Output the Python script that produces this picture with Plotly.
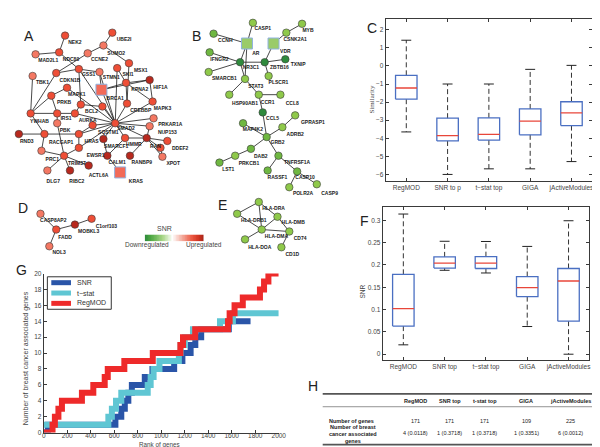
import numpy as np
import plotly.graph_objects as go

# ======================= DATA =======================
# ---- Panel C : similarity boxplots ----
c_methods = ["RegMOD", "SNR to p", "t\u2212stat top", "GIGA", "jActiveModules"]
c_whisk_lo = [-3.65, -6.00, -5.69, -5.69, -5.29]
c_q1 = [-1.84, -4.15, -4.10, -3.81, -3.30]
c_median = [-1.22, -3.85, -3.78, -3.05, -2.60]
c_q3 = [-0.52, -2.89, -2.87, -2.38, -1.98]
c_whisk_hi = [1.42, -1.00, -1.00, -0.19, 0.03]
c_yticks = [-6, -5, -4, -3, -2, -1, 0, 1, 2]

# ---- Panel F : SNR boxplots ----
f_methods = ["RegMOD", "SNR top", "t\u2212stat top", "GIGA", "jActiveModules"]
f_whisk_lo = [0.021, 0.188, 0.182, 0.062, 0.000]
f_q1 = [0.063, 0.193, 0.192, 0.129, 0.074]
f_median = [0.102, 0.204, 0.204, 0.149, 0.164]
f_q3 = [0.179, 0.218, 0.2185, 0.174, 0.192]
f_whisk_hi = [0.314, 0.253, 0.2525, 0.2415, 0.299]
f_yticks = [0, 0.05, 0.1, 0.15, 0.2, 0.25, 0.3]

# ---- Panel G : cumulative breast-cancer genes vs rank ----
g_snr_rank = [0, 35, 610, 660, 690, 720, 750, 860, 925, 1110, 1180, 1250, 1290, 1340, 1575, 1760]
g_snr_count = [0, 1, 2, 3, 4, 5, 6, 7, 8, 9, 10, 11, 12, 13, 14, 14]
g_tstat_rank = [0, 550, 580, 615, 660, 885, 910, 935, 985, 1150, 1165, 1200, 1270, 1500, 1610, 2000]
g_tstat_count = [1, 2, 3, 4, 5, 6, 7, 8, 9, 10, 11, 12, 13, 14, 15, 15]
g_reg_rank = [0, 75, 95, 125, 155, 325, 422, 519, 545, 686, 928, 1163, 1185, 1289, 1568, 1582,
              1624, 1694, 1840, 1875, 1912, 2000]
g_reg_count = [0, 1, 2, 3, 4, 5, 6, 7, 8, 9, 10, 11, 12, 13, 14, 15, 16, 17, 18, 19, 20, 20]
g_xticks = [0, 200, 400, 600, 800, 1000, 1200, 1400, 1600, 1800, 2000]
g_yticks = [0, 2, 4, 6, 8, 10, 12, 14, 16, 18, 20]

# ---- Panel H : table ----
h_methods = ["RegMOD", "SNR top", "t-stat top", "GIGA", "jActiveModules"]
h_num_genes = [171, 171, 171, 109, 225]
h_num_bc = [4, 1, 1, 1, 6]
h_pvals = ["0.0118", "0.3718", "0.3718", "0.3351", "0.0012"]

# ---- Network A (upregulated module), layout in page pixels ----
a_x = [56, 104, 95, 26, 50, 79, 121, 109, 91, 70, 47, 23, 142, 118, 93, 58, 42, 145, 119, 72,
       94, 21, 48, 66, 107, 146, 84, 48, 142, 9, 35, 70, 95, 117, 139, 160, 70, 32, 55, 99,
       122, 153, 155, 80, 38, 61, 112]
a_y = [24, 21, 34, 43, 41, 42, 52, 57, 61, 58, 62, 65, 69, 72, 79, 77, 85, 91, 93, 94,
       96, 103, 103, 103, 113, 108, 115, 113, 116, 124, 124, 124, 129, 128, 128, 131, 138, 141, 146, 146,
       146, 138, 147, 156, 161, 161, 163]
a_level = ["m", "m", "l", "l", "m", "l", "m", "m", "l", "m", "m", "l", "d", "m", "sq", "m", "m", "m", "m", "m",
           "m", "m", "m", "m", "m", "l", "m", "l", "l", "d", "m", "m", "d", "m", "d", "m", "m", "l", "m", "d",
           "d", "m", "l", "d", "l", "d", "sq"]
a_label = ["NEK2", "UBE2I", "SUMO2", "MAD2L1", "NDC80", "CCNE2", "MSX1", "SKI1", "STMN1", "GSS1",
           "CDKN1B", "TBK1", "HIF1A", "KPNA2", "BRCA1", "MAPK1", "PRKB", "MAPK3", "CREBBP", "BCL2",
           "", "YWHAB", "IRS1", "AURKA", "SMAD2", "PRKAR1A", "SQSTM1", "PBK", "NUP153", "RND3",
           "RACGAP1", "HRAS", "SMARCF1", "HMMR", "RAN", "DDEF2", "EWSR1", "PRC1", "TRIM37", "CALM1",
           "RANBP9", "", "XPOT", "ACTL6A", "DLG7", "RIBC2", "KRAS"]
a_lab_x = [66, 116, 108, 39, 62, 91, 133, 120, 103, 80, 61, 33, 153, 132, 107, 68, 55, 155, 133, 83,
           0, 30, 57, 79, 118, 163, 100, 56, 160, 17, 52, 83, 108, 126, 148, 173, 87, 43, 68, 109,
           134, 0, 166, 90, 44, 68, 128]
a_lab_y = [31, 28, 42, 50, 48, 49, 60, 64, 67, 64, 70, 72, 77, 79, 88, 84, 92, 98, 100, 101,
           0, 111, 108, 110, 119, 115, 123, 121, 123, 132, 133, 132, 137, 135, 137, 139, 146, 150, 154, 153,
           153, 0, 154, 166, 172, 172, 172]
a_edges = [(0, 4), (3, 4), (4, 9), (1, 2), (2, 5), (2, 6), (5, 10), (10, 9), (9, 8), (8, 24),
           (7, 24), (6, 18), (9, 24), (9, 19), (10, 21), (11, 21), (14, 12), (14, 24), (13, 14),
           (13, 18), (12, 13), (13, 17), (17, 24), (18, 24), (25, 24), (28, 24), (15, 16), (15, 24),
           (16, 21), (16, 22), (19, 20), (20, 24), (19, 23), (21, 23), (21, 30), (23, 24), (22, 27),
           (27, 38), (26, 24), (26, 31), (29, 30), (30, 31), (31, 24), (33, 34), (24, 33), (24, 34),
           (24, 32), (36, 24), (30, 37), (37, 38), (38, 36), (38, 44), (38, 45), (38, 43), (36, 31),
           (39, 46), (39, 32), (39, 33), (34, 40), (34, 35), (34, 41), (41, 42), (34, 42), (28, 34),
           (8, 14), (7, 13), (12, 17)]

# ---- Network B (downregulated module) ----
b_x = [247, 297, 281, 207, 241, 268, 203, 234, 259, 280, 202, 263, 239, 223, 253, 275, 257, 290,
       237, 277, 261, 245, 273, 229, 213, 262, 292, 312, 284]
b_y = [11, 12, 21, 22, 32, 32, 41, 51, 51, 48, 61, 65, 68, 84, 84, 84, 102, 105,
       113, 117, 127, 139, 146, 146, 153, 161, 162, 175, 178]
b_level = ["l", "l", "l", "m", "sq", "sq", "m", "d", "d", "d", "l", "l", "l", "l", "l", "l", "d", "l",
           "m", "l", "m", "m", "m", "l", "m", "m", "m", "l", "l"]
b_label = ["CASP1", "MYB", "CSNK2A1", "CCNH", "AR", "VDR", "IFNGR2", "NR3C1", "ZBTB16", "TXNIP",
           "SMARCB1", "PLSCR1", "STAT3", "HSP90AB1", "CCR1", "CCL8", "CCL5", "GPRASP1", "MAP4K2",
           "ADRB2", "GRB2", "DAB2", "TNFRSF1A", "PRKCB1", "LST1", "RASSF1", "CASP10", "CASP9", "POLR2A"]
b_lab_x = [257, 303, 290, 219, 250, 280, 213, 245, 274, 293, 218, 273, 250, 239, 262, 287, 267, 308,
           247, 290, 272, 255, 292, 243, 222, 272, 300, 325, 298]
b_lab_y = [17, 19, 28, 29, 42, 40, 48, 57, 57, 54, 68, 72, 76, 93, 92, 93, 108, 113,
           120, 125, 133, 147, 153, 154, 160, 168, 168, 185, 185]
b_edges = [(0, 4), (3, 4), (1, 2), (2, 5), (6, 7), (4, 7), (4, 12), (7, 8), (10, 7), (5, 8), (8, 9),
           (8, 11), (7, 12), (12, 13), (12, 14), (14, 15), (14, 16), (16, 20), (18, 20), (19, 20),
           (19, 17), (20, 21), (21, 23), (23, 24), (20, 22), (22, 25), (22, 26), (26, 27), (26, 28)]

# ---- Network D ----
d_x = [31, 47, 66, 83, 40]
d_y = [205, 221, 216, 210, 238]
d_level = ["l", "m", "d", "m", "l"]
d_label = ["CASP8AP2", "FADD", "MOBKL3", "C1orf103", "NOL3"]
d_lab_x = [44, 56, 80, 98, 50]
d_lab_y = [212, 229, 223, 218, 245]
d_edges = [(0, 1), (1, 2), (2, 3), (1, 4)]

# ---- Network E ----
e_x = [253, 231, 272, 256, 284, 239, 276]
e_y = [193, 205, 208, 221, 223, 231, 239]
e_label = ["HLA-DRA", "HLA-DRB1", "HLA-DMB", "HLA-DMA", "CD74", "HLA-DOA", "CD1D"]
e_lab_x = [268, 248, 288, 271, 295, 254, 287]
e_lab_y = [200, 212, 214, 228, 230, 239, 247]
e_edges = [(1, 0), (0, 3), (0, 2), (1, 3), (3, 2), (3, 4), (2, 4), (5, 3), (6, 4)]

# ======================= STYLE =======================
FONT = "Liberation Sans, Arial, sans-serif"
RED = {"l": "#f47863", "m": "#ee4e36", "d": "#b8291e", "sq": "#f26a58"}
GREEN = {"l": "#8fc94a", "m": "#6fb741", "d": "#2f8a3c", "sq": "#9acb6a"}
W, H = 600, 447


def px_domain_x(a, b):
    return [a / W, b / W]


def px_domain_y(top, bottom):
    return [1 - bottom / H, 1 - top / H]


fig = go.Figure()


def add_network(xs, ys, levels, labels, lx, ly, edges, palette):
    ex, ey = [], []
    for i, j in edges:
        ex += [xs[i], xs[j], None]
        ey += [ys[i], ys[j], None]
    fig.add_trace(go.Scatter(x=ex, y=ey, mode="lines", line=dict(color="#1a1a1a", width=0.8),
                             hoverinfo="skip", showlegend=False, xaxis="x", yaxis="y"))
    circ = [k for k in range(len(xs)) if levels[k] != "sq"]
    sq = [k for k in range(len(xs)) if levels[k] == "sq"]
    fig.add_trace(go.Scatter(x=[xs[k] for k in circ], y=[ys[k] for k in circ], mode="markers",
                             marker=dict(size=7.5, color=[palette[levels[k]] for k in circ],
                                         line=dict(color="#3a3a3a", width=0.6)),
                             showlegend=False, hoverinfo="skip", xaxis="x", yaxis="y"))
    if sq:
        fig.add_trace(go.Scatter(x=[xs[k] for k in sq], y=[ys[k] for k in sq], mode="markers",
                                 marker=dict(size=11, symbol="square", color=palette["sq"],
                                             line=dict(color="#8fb2e0", width=1)),
                                 showlegend=False, hoverinfo="skip", xaxis="x", yaxis="y"))
    idx = [k for k in range(len(labels)) if labels[k]]
    fig.add_trace(go.Scatter(x=[lx[k] for k in idx], y=[ly[k] for k in idx], mode="text",
                             text=["<b>%s</b>" % labels[k] for k in idx],
                             textfont=dict(family=FONT, size=5, color="#1a1a1a"),
                             showlegend=False, hoverinfo="skip", xaxis="x", yaxis="y"))


add_network(a_x, a_y, a_level, a_label, a_lab_x, a_lab_y, a_edges, RED)
add_network(b_x, b_y, b_level, b_label, b_lab_x, b_lab_y, b_edges, GREEN)
add_network(d_x, d_y, d_level, d_label, d_lab_x, d_lab_y, d_edges, RED)
add_network(e_x, e_y, ["l"] * len(e_x), e_label, e_lab_x, e_lab_y, e_edges, GREEN)


# ---------- boxplots ----------
def add_boxes(lo, q1, med, q3, hi, xa, ya, hw=0.26, cw=0.12):
    bx, by, mx, my, wx, wy, cx, cy = [], [], [], [], [], [], [], []
    for i in range(len(lo)):
        bx += [i - hw, i + hw, i + hw, i - hw, i - hw, None]
        by += [q1[i], q1[i], q3[i], q3[i], q1[i], None]
        mx += [i - hw, i + hw, None]
        my += [med[i], med[i], None]
        wx += [i, i, None, i, i, None]
        wy += [q3[i], hi[i], None, q1[i], lo[i], None]
        cx += [i - cw, i + cw, None, i - cw, i + cw, None]
        cy += [hi[i], hi[i], None, lo[i], lo[i], None]
    common = dict(mode="lines", showlegend=False, hoverinfo="skip", xaxis=xa, yaxis=ya)
    fig.add_trace(go.Scatter(x=wx, y=wy, line=dict(color="#333333", width=1, dash="5px,3px"), **common))
    fig.add_trace(go.Scatter(x=cx, y=cy, line=dict(color="#222222", width=1), **common))
    fig.add_trace(go.Scatter(x=bx, y=by, line=dict(color="#4a6fc2", width=1.3), **common))
    fig.add_trace(go.Scatter(x=mx, y=my, line=dict(color="#e8463a", width=1.3), **common))


add_boxes(c_whisk_lo, c_q1, c_median, c_q3, c_whisk_hi, "x2", "y2")
add_boxes(f_whisk_lo, f_q1, f_median, f_q3, f_whisk_hi, "x3", "y3")

# ---------- Panel G lines ----------
g_series = [("SNR", g_snr_rank, g_snr_count, "#2a55a8"),
            ("t\u2212stat", g_tstat_rank, g_tstat_count, "#5fc6d3"),
            ("RegMOD", g_reg_rank, g_reg_count, "#ee2a2a")]
for name, xr, yc, col in g_series:
    fig.add_trace(go.Scatter(x=xr, y=yc, mode="lines", line=dict(color=col, width=6, shape="hv"),
                             name=name, showlegend=False, hoverinfo="skip", xaxis="x4", yaxis="y4"))

# ---------- SNR colour bar ----------
fig.add_trace(go.Heatmap(z=[np.linspace(-1, 1, 80)], showscale=False, hoverinfo="skip",
                         colorscale=[[0, "#2e8a3c"], [0.1, "#4fa843"], [0.3, "#a6d585"], [0.47, "#ffffff"],
                                     [0.62, "#f4b3a6"], [0.8, "#ec5a44"], [0.92, "#d0321f"], [1, "#a8271c"]],
                         xaxis="x5", yaxis="y5"))

# ======================= LAYOUT =======================
tickfont = dict(family=FONT, size=6.5, color="#444444")
axis_box = dict(showline=True, linecolor="#3a3a3a", linewidth=1, mirror="ticks", ticks="inside",
                ticklen=3, tickcolor="#3a3a3a", showgrid=False, zeroline=False, tickfont=tickfont)

layout = dict(
    width=W, height=H, autosize=False, margin=dict(l=0, r=0, t=0, b=0),
    paper_bgcolor="white", plot_bgcolor="rgba(0,0,0,0)", showlegend=False,
    font=dict(family=FONT, color="#222222"),
    xaxis=dict(domain=[0, 1], range=[0, W], visible=False, fixedrange=True),
    yaxis=dict(domain=[0, 1], range=[H, 0], visible=False, fixedrange=True),
    xaxis2=dict(domain=px_domain_x(382, 592), range=[-0.5, 4.5], anchor="y2",
                tickvals=list(range(5)), ticktext=c_methods, **axis_box),
    yaxis2=dict(domain=px_domain_y(7, 172), range=[-6.38, 2.6], anchor="x2",
                tickvals=c_yticks, **axis_box),
    xaxis3=dict(domain=px_domain_x(379, 589), range=[-0.5, 4.5], anchor="y3",
                tickvals=list(range(5)), ticktext=f_methods, **axis_box),
    yaxis3=dict(domain=px_domain_y(198, 354), range=[-0.014, 0.330], anchor="x3",
                tickvals=f_yticks, **axis_box),
    xaxis4=dict(domain=px_domain_x(34.3, 273.3), range=[0, 2000], anchor="y4", tickvals=g_xticks,
                showline=True, linecolor="#3a3a3a", linewidth=1, ticks="inside", ticklen=3,
                tickcolor="#3a3a3a", showgrid=False, zeroline=False, tickfont=tickfont,
                ticklabelstandoff=-3),
    yaxis4=dict(domain=px_domain_y(265.7, 427.3), range=[0, 20], anchor="x4", tickvals=g_yticks,
                showline=True, linecolor="#3a3a3a", linewidth=1, ticks="inside", ticklen=3,
                tickcolor="#3a3a3a", showgrid=False, zeroline=False, tickfont=tickfont),
    xaxis5=dict(domain=px_domain_x(137, 197), anchor="y5", visible=False),
    yaxis5=dict(domain=px_domain_y(226, 233), anchor="x5", visible=False),
)
fig.update_layout(**layout)

ann = []


def text(x, y, s, size=6, bold=False, angle=0, align="center", family=FONT, color="#222222"):
    ann.append(dict(x=x, y=y, xref="x", yref="y", text=("<b>%s</b>" % s) if bold else s,
                    showarrow=False, textangle=angle, xanchor=align, yanchor="middle",
                    font=dict(family=family, size=size, color=color)))


# panel letters
for letter, lx_, ly_ in [("A", 19, 24), ("B", 190, 24), ("C", 368, 16), ("D", 13, 199),
                         ("E", 216, 196), ("F", 361, 212), ("G", 12, 262), ("H", 308, 380)]:
    text(lx_, ly_, letter, size=14)

# axis titles
text(368, 88, "Similarity", size=7, angle=-90, family="Liberation Serif, Times New Roman, serif",
     color="#444444")
text(359, 284, "SNR", size=6.5, angle=-90, color="#444444")
text(17, 352, "Number of breast cancer associated genes", size=7, angle=-90, color="#444444")
text(152, 439.5, "Rank of genes", size=6.3, color="#444444")

# colour-bar labels
text(157, 220, "SNR", size=7, color="#444444")
text(139, 237, "Downregulated", size=6.5, color="#444444")
text(197, 237, "Upregulated", size=6.5, color="#444444")

# legend of panel G (drawn by hand to match the compact MATLAB legend)
shapes = [dict(type="rect", xref="x", yref="y", x0=38, x1=103, y0=269, y1=302,
               line=dict(color="#333333", width=1), fillcolor="white", layer="above")]
for k, (name, _, _, col) in enumerate(g_series):
    yy = 275 + k * 10.5
    shapes.append(dict(type="line", xref="x", yref="y", x0=42, x1=62, y0=yy, y1=yy,
                       line=dict(color=col, width=5), layer="above"))
    text(66, yy, name, size=7, align="left", color="#333333")

# table H
h_col_x = [412, 447, 483, 525, 570]
tab_left, tab_right = 318, 594
shapes.append(dict(type="line", xref="x", yref="y", x0=tab_left, x1=tab_right, y0=388, y1=388,
                   line=dict(color="#555555", width=1.6)))
shapes.append(dict(type="line", xref="x", yref="y", x0=tab_left, x1=tab_right, y0=401, y1=401,
                   line=dict(color="#777777", width=0.8)))
shapes.append(dict(type="line", xref="x", yref="y", x0=tab_left, x1=tab_right, y0=439.5, y1=439.5,
                   line=dict(color="#555555", width=1.6)))
for k in range(len(h_methods)):
    text(h_col_x[k], 395, h_methods[k], size=5.5, bold=True)
    text(h_col_x[k], 416, str(h_num_genes[k]), size=5.5)
    text(h_col_x[k], 428, "%d (%s)" % (h_num_bc[k], h_pvals[k]), size=5.5)
text(322, 416, "Number of genes", size=5.5, bold=True, align="left")
text(322, 429, "Number of breast<br>cancer associated<br>genes", size=5.5, bold=True, align="left")

fig.update_layout(annotations=ann, shapes=shapes)
fig.write_html("out.html")
